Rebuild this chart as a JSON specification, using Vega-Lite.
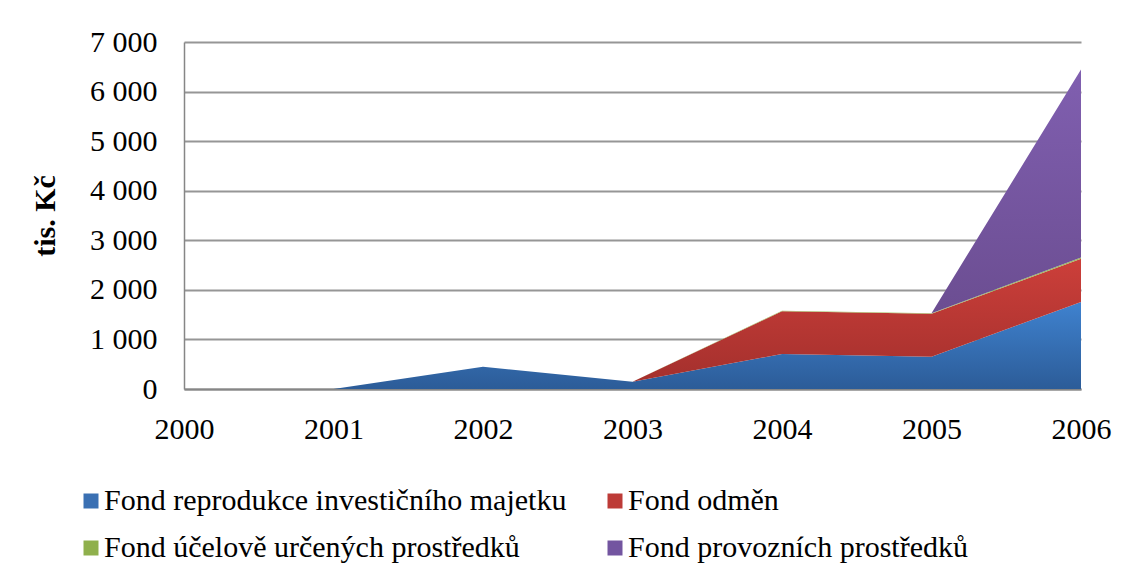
{
  "$schema": "https://vega.github.io/schema/vega-lite/v6.json",
  "autosize": {"type": "none"},
  "width": 897,
  "height": 347,
  "padding": {"left": 184, "top": 42, "right": 47, "bottom": 189},
  "background": "white",
  "config": {
    "font": "'Liberation Serif', 'Times New Roman', serif",
    "view": {"stroke": null},
    "axis": {"labelFont": "'Liberation Serif', 'Times New Roman', serif", "labelColor": "black", "titleFont": "'Liberation Serif', 'Times New Roman', serif", "titleColor": "black"},
    "legend": {"labelFont": "'Liberation Serif', 'Times New Roman', serif"}
  },
  "data": {
    "values": [
      {"year": 2000, "s": "Fond reprodukce investičního majetku", "k": 1, "v": 0},
      {"year": 2001, "s": "Fond reprodukce investičního majetku", "k": 1, "v": 0},
      {"year": 2002, "s": "Fond reprodukce investičního majetku", "k": 1, "v": 450},
      {"year": 2003, "s": "Fond reprodukce investičního majetku", "k": 1, "v": 147},
      {"year": 2004, "s": "Fond reprodukce investičního majetku", "k": 1, "v": 706},
      {"year": 2005, "s": "Fond reprodukce investičního majetku", "k": 1, "v": 651},
      {"year": 2006, "s": "Fond reprodukce investičního majetku", "k": 1, "v": 1754},
      {"year": 2000, "s": "Fond odměn", "k": 2, "v": 0},
      {"year": 2001, "s": "Fond odměn", "k": 2, "v": 0},
      {"year": 2002, "s": "Fond odměn", "k": 2, "v": 0},
      {"year": 2003, "s": "Fond odměn", "k": 2, "v": 0},
      {"year": 2004, "s": "Fond odměn", "k": 2, "v": 862},
      {"year": 2005, "s": "Fond odměn", "k": 2, "v": 865},
      {"year": 2006, "s": "Fond odměn", "k": 2, "v": 872},
      {"year": 2000, "s": "Fond účelově určených prostředků", "k": 3, "v": 0},
      {"year": 2001, "s": "Fond účelově určených prostředků", "k": 3, "v": 0},
      {"year": 2002, "s": "Fond účelově určených prostředků", "k": 3, "v": 0},
      {"year": 2003, "s": "Fond účelově určených prostředků", "k": 3, "v": 0},
      {"year": 2004, "s": "Fond účelově určených prostředků", "k": 3, "v": 10},
      {"year": 2005, "s": "Fond účelově určených prostředků", "k": 3, "v": 12},
      {"year": 2006, "s": "Fond účelově určených prostředků", "k": 3, "v": 25},
      {"year": 2000, "s": "Fond provozních prostředků", "k": 4, "v": 0},
      {"year": 2001, "s": "Fond provozních prostředků", "k": 4, "v": 0},
      {"year": 2002, "s": "Fond provozních prostředků", "k": 4, "v": 0},
      {"year": 2003, "s": "Fond provozních prostředků", "k": 4, "v": 0},
      {"year": 2004, "s": "Fond provozních prostředků", "k": 4, "v": 0},
      {"year": 2005, "s": "Fond provozních prostředků", "k": 4, "v": 0},
      {"year": 2006, "s": "Fond provozních prostředků", "k": 4, "v": 3795}
    ]
  },
  "transform": [
    {"stack": "v", "groupby": ["year"], "sort": [{"field": "k", "order": "ascending"}], "as": ["y0", "y1"]}
  ],
  "encoding": {
    "x": {
      "field": "year", "type": "quantitative",
      "scale": {"domain": [2000, 2006], "nice": false, "zero": false},
      "axis": {
        "title": null, "values": [2000, 2001, 2002, 2003, 2004, 2005, 2006], "format": "d",
        "grid": false, "ticks": false, "domain": true, "domainColor": "#868686", "domainWidth": 2,
        "labelFont": "'Liberation Serif', 'Times New Roman', serif",
        "labelFontSize": 30, "labelPadding": 25, "labelFlush": false
      }
    },
    "y": {
      "field": "y1", "type": "quantitative",
      "scale": {"domain": [0, 7000], "nice": false},
      "axis": {
        "title": "tis. Kč", "titleFontSize": 30, "titleFontWeight": "bold",
        "titleFont": "'Liberation Serif', 'Times New Roman', serif",
        "titleAngle": -90, "titleX": -139, "titleY": 173.5, "titleAlign": "center", "titleBaseline": "middle",
        "values": [0, 1000, 2000, 3000, 4000, 5000, 6000, 7000],
        "labelExpr": "replace(format(datum.value, ','), ',', ' ')",
        "labelFont": "'Liberation Serif', 'Times New Roman', serif",
        "grid": true, "gridColor": "#969696", "gridWidth": 2,
        "ticks": false, "domain": true, "domainColor": "#868686", "domainWidth": 1.5,
        "labelFontSize": 30, "labelPadding": 27
      }
    },
    "y2": {"field": "y0"}
  },
  "layer": [
    {
      "transform": [{"filter": "datum.s === 'Fond reprodukce investičního majetku'"}],
      "mark": {"type": "area", "interpolate": "linear",
        "color": {"gradient": "linear", "x1": 0, "y1": 0, "x2": 0, "y2": 1,
          "stops": [{"offset": 0, "color": "#3f82cf"}, {"offset": 1, "color": "#2c5c98"}]}}
    },
    {
      "transform": [{"filter": "datum.s === 'Fond odměn'"}],
      "mark": {"type": "area", "interpolate": "linear",
        "color": {"gradient": "linear", "x1": 0, "y1": 0, "x2": 0, "y2": 1,
          "stops": [{"offset": 0, "color": "#cc3f3a"}, {"offset": 1, "color": "#a22f2c"}]}}
    },
    {
      "transform": [{"filter": "datum.s === 'Fond účelově určených prostředků'"}],
      "mark": {"type": "area", "interpolate": "linear", "color": "#9bbb59"}
    },
    {
      "transform": [{"filter": "datum.s === 'Fond provozních prostředků'"}],
      "mark": {"type": "area", "interpolate": "linear",
        "color": {"gradient": "linear", "x1": 0, "y1": 0, "x2": 0, "y2": 1,
          "stops": [{"offset": 0, "color": "#805fb0"}, {"offset": 1, "color": "#654888"}]}}
    },
    {
      "mark": {"type": "square", "opacity": 0, "size": 1},
      "encoding": {
        "color": {
          "field": "s", "type": "nominal",
          "scale": {
            "domain": ["Fond reprodukce investičního majetku", "Fond odměn", "Fond účelově určených prostředků", "Fond provozních prostředků"],
            "range": ["#3a70b3", "#bd3b37", "#8fb04c", "#7355a0"]
          },
          "legend": {
            "title": null, "orient": "none", "legendX": -108, "legendY": 444,
            "columns": 2, "direction": "horizontal", "gridAlign": "each",
            "columnPadding": 33, "rowPadding": 17,
            "symbolType": "square", "symbolSize": 225, "symbolStrokeWidth": 0, "symbolOpacity": 1,
            "labelFont": "'Liberation Serif', 'Times New Roman', serif", "labelFontSize": 30, "labelColor": "black", "labelLimit": 700, "labelOffset": -2,
            "encode": {"symbols": {"update": {"opacity": {"value": 1}, "fillOpacity": {"value": 1}}}}
          }
        }
      }
    }
  ]
}
